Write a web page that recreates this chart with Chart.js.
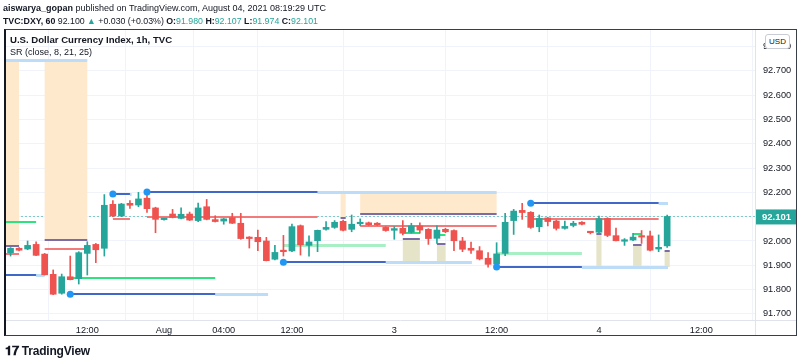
<!DOCTYPE html>
<html>
<head>
<meta charset="utf-8">
<script src="https://cdn.jsdelivr.net/npm/chart.js@4.4.0/dist/chart.umd.min.js"></script>
<style>
  body { margin: 0; background: #fff; font-family: "Liberation Sans", Arial, sans-serif; color: #131722; }
  #wrap { position: relative; width: 800px; height: 362px; overflow: hidden; }
  #c { position: absolute; left: 0; top: 0; }
  .txt { position: absolute; white-space: nowrap; font-size: 9px; line-height: 12px; }
  .up { color: #26a69a; }
  #frame { position: absolute; left: 4px; top: 29px; width: 790px; height: 305px; border: 1px solid #3a3e48; border-left: 2px solid #131722; pointer-events: none; }
  #usd { position: absolute; left: 765px; top: 34px; width: 23px; height: 13px; border: 1px solid #c9ccd4; border-radius: 3px; background: #fff; font-size: 8px; line-height: 13px; text-align: center; }
  #logo { position: absolute; left: 5px; top: 343px; font-size: 12px; font-weight: bold; letter-spacing: -0.2px; }
</style>
</head>
<body>
<div id="wrap">
  <canvas id="c" width="800" height="362"></canvas>
  <div id="frame"></div>
  <div class="txt" style="left:3px;top:2px;font-size:9px;"><b>aiswarya_gopan</b> published on TradingView.com, August 04, 2021 08:19:29 UTC</div>
  <div class="txt" style="left:3px;top:15px;font-size:8.8px;"><b>TVC:DXY, 60</b> 92.100 <span class="up">▲</span> +0.030 (+0.03%) <b>O:</b><span class="up">91.980</span> <b>H:</b><span class="up">92.107</span> <b>L:</b><span class="up">91.974</span> <b>C:</b><span class="up">92.101</span></div>
  <div class="txt" style="left:10px;top:34px;font-weight:bold;font-size:9.6px;">U.S. Dollar Currency Index, 1h, TVC</div>
  <div class="txt" style="left:10px;top:46px;font-size:9px;">SR (close, 8, 21, 25)</div>
  <div id="usd">USD</div>
  <div id="logo"><span style="font-size:13px;">𝟏𝟕</span> TradingView</div>
</div>
<script>
// hourly bars, 30 Jul 03:00 .. 4 Aug 08:00 (weekend skipped)
const opens  = [91.952,91.970,91.967,91.986,91.946,91.863,91.785,91.853,91.845,91.949,91.986,91.970,92.151,92.103,92.155,92.148,92.176,92.136,92.088,92.111,
                92.093,92.111,92.084,92.141,92.088,92.082,92.096,92.073,92.015,92.015,92.000,91.925,91.959,91.959,92.063,91.982,92.001,92.048,92.056,92.081,
                92.048,92.071,92.075,92.071,92.056,92.044,92.052,92.036,92.062,92.048,92.011,92.048,92.043,92.000,91.970,91.960,91.929,91.905,91.949,92.084,
                92.126,92.118,92.059,92.095,92.082,92.052,92.064,92.077,92.037,92.036,92.093,92.022,91.999,92.004,92.019,92.021,91.967,91.980];
const highs  = [91.973,91.973,92.000,91.997,91.949,91.881,91.864,91.938,91.956,91.997,91.990,92.191,92.166,92.155,92.166,92.200,92.196,92.139,92.091,92.130,
                92.136,92.119,92.156,92.171,92.104,92.093,92.114,92.114,92.018,92.045,92.015,91.982,92.023,92.070,92.066,92.021,92.045,92.080,92.084,92.086,
                92.107,92.091,92.078,92.076,92.059,92.059,92.084,92.073,92.075,92.051,92.062,92.052,92.046,92.015,91.996,91.977,91.952,91.993,92.114,92.130,
                92.155,92.121,92.107,92.097,92.086,92.082,92.081,92.080,92.039,92.103,92.096,92.053,92.010,92.032,92.043,92.041,92.025,92.107];
const lows   = [91.938,91.959,91.964,91.940,91.860,91.779,91.781,91.840,91.823,91.860,91.911,91.938,92.100,92.100,92.134,92.141,92.118,92.034,92.086,92.095,
                92.091,92.084,92.080,92.087,92.078,92.069,92.072,92.007,91.971,91.960,91.918,91.922,91.938,91.956,91.942,91.938,91.956,92.045,92.052,92.041,
                92.038,92.063,92.064,92.064,92.040,92.007,92.025,92.032,92.032,91.986,91.990,92.034,91.960,91.956,91.949,91.922,91.892,91.901,91.940,92.027,
                92.089,92.052,92.038,92.062,92.045,92.049,92.058,92.066,92.029,92.032,92.018,92.000,91.982,92.001,91.990,91.959,91.956,91.974];
const closes = [91.970,91.962,91.982,91.941,91.861,91.781,91.853,91.841,91.952,91.982,91.964,92.147,92.103,92.152,92.147,92.173,92.133,92.089,92.091,92.097,
                92.110,92.086,92.136,92.089,92.080,92.091,92.073,92.010,92.010,91.997,91.919,91.953,91.956,92.059,91.984,91.996,92.044,92.056,92.077,92.044,
                92.069,92.074,92.067,92.067,92.043,92.051,92.032,92.062,92.045,92.010,92.045,92.038,92.001,91.966,91.962,91.926,91.904,91.947,92.077,92.123,
                92.117,92.056,92.093,92.080,92.052,92.060,92.073,92.069,92.034,92.092,92.023,92.001,92.004,92.016,92.016,91.962,91.974,92.101];

const timeTickIdx    = [9, 18, 25, 33, 45, 57, 69, 81];
const timeTickLabels = ['12:00', 'Aug', '04:00', '12:00', '3', '12:00', '4', '12:00'];
const priceTicks     = [91.7, 91.8, 91.9, 92.0, 92.1, 92.2, 92.3, 92.4, 92.5, 92.6, 92.7, 92.8];

// SR indicator: zones [fromIdx, toIdx, top, bottom]
const resistanceZones = [[-0.7, 1, 92.745, 91.980], [4, 9, 92.745, 92.006], [38.7, 39.3, 92.202, 92.093], [41, 57, 92.202, 92.112]];
const supportZones    = [[46, 48, 92.007, 91.911], [50, 51, 91.988, 91.911], [68.7, 69.3, 92.029, 91.893], [73, 74, 91.984, 91.893], [76.7, 77.3, 91.959, 91.893]];
// levels [pivotIdx, activeEnd, extendedEnd, price]
const levels = [[-0.7, 3, 4, 91.859], [7, 24, 30.2, 91.781], [12, 14, 14.2, 92.193], [16, 36, 57, 92.202],
                [32, 44, 54.1, 91.913], [57, 67, 77.1, 91.893], [61, 76, 77.1, 92.155], [-0.7, -0.7, 9, 92.745]];
const pivotIdx = [7, 12, 16, 32, 57, 61];
// [fromIdx, toIdx, price]
const redLines      = [[-0.7, 1, 91.947], [4, 9, 91.967], [12, 14, 92.091], [16, 36, 92.097], [41, 57, 92.060], [61, 76, 92.089]];
const greenLines    = [[-0.7, 3, 92.077], [7, 24, 91.847], [46, 48, 92.034], [50, 51, 92.023], [73, 74, 92.028]];
const mintLines     = [[32, 44, 91.985], [57, 67, 91.950]];
const zoneEdgeLines = [[-0.7, 1, 91.980], [4, 9, 92.006], [41, 57, 92.112], [38.7, 39.3, 92.093], [46, 48, 92.007],
                       [50, 51, 91.988], [68.7, 69.3, 92.029], [73, 74, 91.984], [76.7, 77.3, 91.959]];

const UP = '#26a69a', DOWN = '#ef5350';
const idx = opens.map((_, i) => i);
const cols = idx.map(i => closes[i] >= opens[i] ? UP : DOWN);
const lastClose = closes[closes.length - 1];
const FONT = '"Liberation Sans", Arial, sans-serif';

const srPlugin = {
  id: 'sr',
  beforeDatasetsDraw(chart) {
    const { ctx, chartArea: a, scales: { x, y } } = chart;
    ctx.save();
    ctx.beginPath(); ctx.rect(a.left, a.top, a.right - a.left, a.bottom - a.top); ctx.clip();
    const box = (z, col) => {
      const x0 = x.getPixelForValue(z[0]), x1 = x.getPixelForValue(z[1]);
      const y0 = y.getPixelForValue(z[2]), y1 = y.getPixelForValue(z[3]);
      ctx.fillStyle = col; ctx.fillRect(x0, y0, x1 - x0, y1 - y0);
    };
    const seg = (f, t, p, col, w) => {
      if (t <= f) return;
      const py = Math.round(y.getPixelForValue(p)) + (w % 2 ? 0.5 : 0);
      ctx.strokeStyle = col; ctx.lineWidth = w;
      ctx.beginPath(); ctx.moveTo(x.getPixelForValue(f), py); ctx.lineTo(x.getPixelForValue(t), py); ctx.stroke();
    };
    // current price dashed line
    ctx.setLineDash([2, 2]);
    seg(x.min, x.max, lastClose, 'rgba(38,166,154,0.55)', 1);
    ctx.setLineDash([]);
    resistanceZones.forEach(z => box(z, '#fee9cc'));
    supportZones.forEach(z => box(z, '#e6e4c8'));
    redLines.forEach(l => seg(l[0], l[1], l[2], '#f27a7a', 2));
    mintLines.forEach(l => seg(l[0], l[1], l[2], '#a8efc6', 3));
    greenLines.forEach(l => seg(l[0], l[1], l[2], '#2ee37f', 2));
    zoneEdgeLines.forEach(l => seg(l[0], l[1], l[2], '#7c6ca6', 2));
    levels.forEach(l => {
      seg(l[1], l[2], l[3], '#bcdcf7', 3);
      seg(l[0], l[1], l[3], '#4068c8', 2);
    });
    ctx.restore();
  },
  afterDatasetsDraw(chart) {
    const { ctx, scales: { x, y } } = chart;
    ctx.save();
    ctx.fillStyle = '#2196f3';
    levels.forEach(l => {
      if (!pivotIdx.includes(l[0])) return;
      ctx.beginPath();
      ctx.arc(x.getPixelForValue(l[0]), y.getPixelForValue(l[3]), 3.5, 0, Math.PI * 2);
      ctx.fill();
    });
    ctx.restore();
  },
  afterDraw(chart) {
    const { ctx, chartArea: a, scales: { y } } = chart;
    ctx.save();
    ctx.strokeStyle = '#e0e3eb'; ctx.lineWidth = 1;
    ctx.beginPath();
    ctx.moveTo(a.right + 0.5, a.top); ctx.lineTo(a.right + 0.5, 335);
    ctx.moveTo(a.left, a.bottom + 0.5); ctx.lineTo(796, a.bottom + 0.5);
    ctx.stroke();
    const py = y.getPixelForValue(lastClose);
    ctx.fillStyle = UP;
    ctx.fillRect(a.right + 1, py - 7, 40, 15);
    ctx.fillStyle = '#fff';
    ctx.font = 'bold 9.5px ' + FONT;
    ctx.textBaseline = 'middle';
    ctx.fillText(lastClose.toFixed(3), a.right + 7, py + 0.5);
    ctx.restore();
  }
};

new Chart(document.getElementById('c'), {
  type: 'bar',
  data: {
    datasets: [
      {
        data: idx.map(i => ({ x: i, y: [opens[i], closes[i]] })),
        backgroundColor: cols,
        borderColor: cols,
        borderWidth: 0,
        barThickness: 6,
        minBarLength: 1.5,
        grouped: false,
        order: 1
      },
      {
        data: idx.map(i => ({ x: i, y: [lows[i], highs[i]] })),
        backgroundColor: cols,
        barThickness: 1,
        grouped: false,
        order: 2
      }
    ]
  },
  options: {
    responsive: false,
    animation: false,
    events: [],
    layout: { padding: { left: 5, top: 30, right: 4, bottom: 26 } },
    plugins: { legend: { display: false }, tooltip: { enabled: false } },
    scales: {
      x: {
        type: 'linear',
        min: -0.65,
        max: 87.3,
        offset: false,
        afterBuildTicks: s => { s.ticks = timeTickIdx.map(v => ({ value: v })); },
        afterFit: s => { s.height = 16; },
        ticks: {
          autoSkip: false, maxRotation: 0, padding: 5,
          color: '#131722',
          font: { family: FONT, size: 9.2 },
          callback: v => timeTickLabels[timeTickIdx.indexOf(v)]
        },
        grid: { color: '#f0f3fa', drawTicks: false },
        border: { display: false }
      },
      y: {
        position: 'right',
        min: 91.675,
        max: 92.868,
        afterBuildTicks: s => { s.ticks = priceTicks.map(v => ({ value: v })); },
        afterFit: s => { s.width = 41; },
        ticks: {
          padding: 8,
          color: '#131722',
          font: { family: FONT, size: 9.2 },
          callback: v => v.toFixed(3)
        },
        grid: { color: '#f0f3fa', drawTicks: false },
        border: { display: false }
      }
    }
  },
  plugins: [srPlugin]
});
</script>
</body>
</html>
